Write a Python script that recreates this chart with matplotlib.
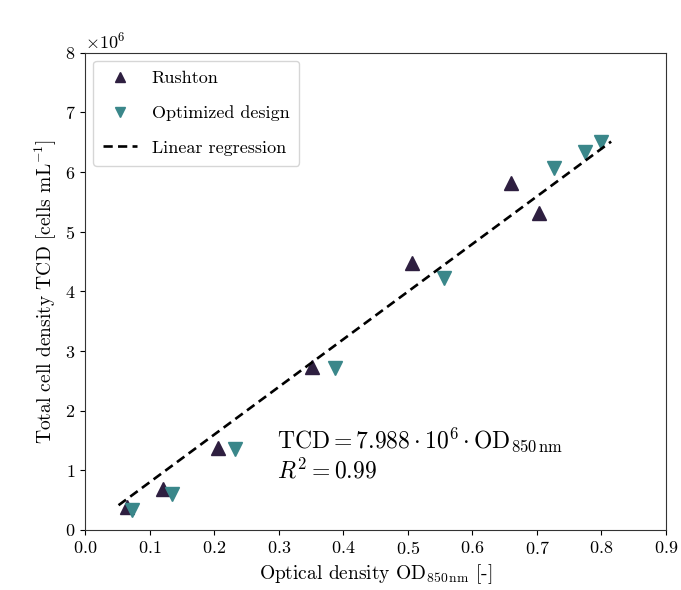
import matplotlib
matplotlib.use("Agg")
import matplotlib.pyplot as plt
import numpy as np

# Optical density (OD 850 nm) and total cell density (x 1e6 cells/mL)
rushton_od = [0.065, 0.121, 0.206, 0.352, 0.506, 0.660, 0.704]
rushton_tcd = [0.39, 0.68, 1.37, 2.73, 4.47, 5.81, 5.31]

optimized_od = [0.073, 0.135, 0.232, 0.387, 0.556, 0.726, 0.774, 0.799]
optimized_tcd = [0.33, 0.60, 1.35, 2.71, 4.22, 6.06, 6.34, 6.51]

slope = 7.988e6
r_squared = 0.99
fit_range = [0.052, 0.815]

x_ticks = [0.0, 0.1, 0.2, 0.3, 0.4, 0.5, 0.6, 0.7, 0.8, 0.9]
y_ticks = [0, 1, 2, 3, 4, 5, 6, 7, 8]

plt.rcParams["font.family"] = "serif"
plt.rcParams["font.serif"] = ["cmr10", "DejaVu Serif"]
plt.rcParams["mathtext.fontset"] = "cm"
plt.rcParams["axes.formatter.use_mathtext"] = True
plt.rcParams["axes.unicode_minus"] = False

fig = plt.figure(figsize=(6.81, 5.90), dpi=100)
ax = fig.add_axes([0.1248, 0.1017, 0.8532, 0.8090])

ax.plot(rushton_od, np.array(rushton_tcd) * 1e6, linestyle="none", marker="^",
        markersize=9.5, color="#2e1f40", label="Rushton", zorder=3)
ax.plot(optimized_od, np.array(optimized_tcd) * 1e6, linestyle="none", marker="v",
        markersize=9.5, color="#3a878a", label="Optimized design", zorder=3)

x_fit = np.linspace(fit_range[0], fit_range[1], 50)
ax.plot(x_fit, slope * x_fit, linestyle="--", color="black", linewidth=1.9,
        dashes=(3.5, 2.0), label="Linear regression", zorder=4)

ax.text(0.298, 1.27e6,
        r"$\mathrm{TCD} = 7.988 \cdot 10^6 \cdot \mathrm{OD}_{850\,\mathrm{nm}}$" "\n"
        r"$R^2 = 0.99$",
        fontsize=17, va="center", ha="left", linespacing=1.2)

ax.set_xlim(0, 0.9)
ax.set_ylim(0, 8e6)
ax.set_xticks(x_ticks)
ax.set_yticks(np.array(y_ticks) * 1e6)
ax.ticklabel_format(axis="y", style="sci", scilimits=(6, 6), useMathText=True)
ax.yaxis.get_offset_text().set_fontsize(13)
ax.tick_params(labelsize=13)

ax.set_xlabel(r"Optical density OD$_{850\,\mathrm{nm}}$ [-]", fontsize=14)
ax.set_ylabel(r"Total cell density TCD [cells mL$^{-1}$]", fontsize=14)

for spine in ax.spines.values():
    spine.set_color("#333333")

ax.legend(loc="upper left", fontsize=13, frameon=True, handlelength=1.9,
          borderpad=0.55, labelspacing=1.05, markerscale=0.75,
          borderaxespad=0.45)

fig.savefig("out.png", dpi=100)
